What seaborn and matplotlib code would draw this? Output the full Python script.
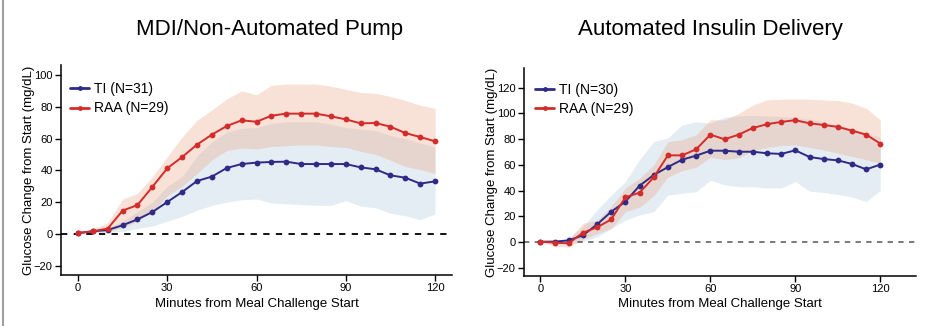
import numpy as np
import pandas as pd
import matplotlib
matplotlib.use("Agg")
import matplotlib.pyplot as plt
from matplotlib.lines import Line2D
import seaborn as sns

# Time points (minutes from meal challenge start)
minutes = [0, 5, 10, 15, 20, 25, 30, 35, 40, 45, 50, 55, 60,
           65, 70, 75, 80, 85, 90, 95, 100, 105, 110, 115, 120]

# MDI / non-automated pump
mdi_ti_mean = [0.6, 1.7, 2.5, 5.5, 9.2, 13.8, 20.1, 26.4, 33.3, 36.1, 41.5, 44.0, 44.9,
               45.3, 45.5, 44.0, 44.0, 44.0, 44.0, 41.9, 40.7, 36.9, 35.4, 31.7, 33.1]
mdi_ti_lo = [0.0, 0.5, 1.0, 1.5, 3.5, 5.0, 8.0, 11.0, 15.0, 18.0, 20.0, 21.5, 22.0,
             19.5, 19.0, 18.5, 18.0, 18.0, 21.0, 17.5, 16.5, 13.0, 11.5, 9.0, 12.5]
mdi_ti_hi = [0.6, 2.5, 4.0, 8.0, 14.0, 20.0, 30.0, 36.0, 49.0, 58.0, 64.0, 66.5, 67.0,
             69.5, 70.5, 70.5, 70.5, 69.0, 67.0, 66.0, 65.0, 62.0, 60.0, 57.0, 55.0]
mdi_raa_mean = [0.6, 1.7, 3.4, 14.7, 18.2, 29.6, 41.3, 48.4, 56.2, 62.5, 67.9, 71.5, 70.6,
                74.4, 75.7, 75.7, 75.7, 74.0, 72.1, 69.6, 69.8, 67.5, 63.5, 61.0, 58.3]
mdi_raa_lo = [0.5, 1.0, 1.5, 4.0, 8.0, 14.0, 24.0, 30.0, 38.0, 46.5, 52.5, 54.0, 53.5,
              55.0, 55.5, 56.0, 56.0, 55.0, 54.5, 52.0, 50.0, 46.5, 42.5, 40.5, 38.0]
mdi_raa_hi = [0.7, 3.0, 7.0, 22.0, 25.5, 36.0, 48.5, 61.0, 71.5, 78.0, 85.0, 90.0, 87.5,
              93.5, 94.3, 94.3, 94.3, 93.0, 91.0, 89.0, 88.5, 86.5, 84.0, 81.0, 79.0]

# Automated insulin delivery
aid_ti_mean = [0.3, 0.3, 1.3, 5.2, 13.7, 23.6, 31.4, 43.8, 52.1, 58.3, 64.0, 67.2, 71.0,
               71.0, 70.2, 70.2, 69.0, 68.5, 71.3, 66.1, 64.5, 63.5, 60.7, 56.5, 60.2]
aid_ti_lo = [0.0, -0.5, -1.0, 0.5, 4.0, 10.5, 17.0, 21.0, 23.5, 36.5, 38.0, 39.0, 48.0,
             44.5, 43.0, 43.0, 42.0, 42.0, 47.0, 39.5, 38.5, 37.0, 35.0, 31.5, 40.0]
aid_ti_hi = [0.5, 1.0, 3.0, 12.0, 25.0, 36.5, 47.0, 64.0, 78.0, 81.0, 91.0, 93.5, 92.5,
             97.0, 98.0, 98.5, 98.0, 97.5, 97.0, 95.5, 93.5, 91.0, 88.0, 84.5, 81.5]
aid_raa_mean = [0.3, -0.5, -1.0, 7.3, 11.4, 17.6, 34.8, 38.4, 50.3, 67.4, 67.4, 72.1, 83.5,
                79.9, 83.5, 88.7, 91.6, 93.4, 94.7, 92.3, 91.0, 89.5, 86.6, 83.5, 76.5]
aid_raa_lo = [0.0, -3.0, -4.0, 2.0, 6.5, 10.5, 23.5, 27.0, 36.0, 50.5, 55.5, 58.0, 66.0,
              64.0, 65.5, 71.0, 73.5, 75.0, 75.5, 73.5, 71.5, 69.0, 66.5, 64.0, 61.0]
aid_raa_hi = [0.5, 2.0, 2.0, 14.5, 17.0, 27.5, 42.0, 49.5, 60.0, 78.0, 79.5, 83.5, 95.0,
              95.0, 100.0, 106.5, 110.5, 111.0, 111.0, 111.0, 110.5, 110.0, 108.0, 104.0, 95.0]

titles = ["MDI/Non-Automated Pump", "Automated Insulin Delivery"]
ti_labels = ["TI (N=31)", "TI (N=30)"]
raa_label = "RAA (N=29)"

TI_COLOR = "#2f2a86"
RAA_COLOR = "#d42b2b"
TI_BAND = "#a9c6dc"
RAA_BAND = "#eb9c78"

sns.set_theme(style="ticks")
plt.rcParams["font.family"] = ["Liberation Sans", "DejaVu Sans"]
plt.rcParams.update({"text.color": "black", "axes.labelcolor": "black",
                     "xtick.color": "black", "ytick.color": "black",
                     "axes.edgecolor": "black"})

fig = plt.figure(figsize=(9.32, 3.26), dpi=100)
ax1 = fig.add_axes([61 / 932, 51 / 326, 391 / 932, 210 / 326])
ax2 = fig.add_axes([524 / 932, 50 / 326, 392 / 932, 208 / 326])

panels = [
    (ax1, mdi_ti_mean, mdi_ti_lo, mdi_ti_hi, mdi_raa_mean, mdi_raa_lo, mdi_raa_hi,
     (-5.7, 125.7), (-25.8, 106.3), np.arange(-20, 101, 20), "black", 1.3, (0.023, 0.918)),
    (ax2, aid_ti_mean, aid_ti_lo, aid_ti_hi, aid_raa_mean, aid_raa_lo, aid_raa_hi,
     (-5.8, 132.6), (-26.4, 135.3), np.arange(-20, 121, 20), "#555555", 1.1, (0.028, 0.93)),
]

for i, (ax, ti_m, ti_lo, ti_hi, raa_m, raa_lo, raa_hi, xlim, ylim, yticks, zc, zw, leg_xy) in enumerate(panels):
    ax.fill_between(minutes, ti_lo, ti_hi, color=TI_BAND, alpha=0.3, linewidth=0, zorder=1)
    ax.fill_between(minutes, raa_lo, raa_hi, color=RAA_BAND, alpha=0.3, linewidth=0, zorder=1)
    ax.axhline(0, color=zc, linestyle=(0, (3.5, 3.5)), linewidth=zw, zorder=2)

    ti_lab = ti_labels[i]
    df = pd.DataFrame({
        "minutes": minutes * 2,
        "change": list(ti_m) + list(raa_m),
        "group": [ti_lab] * len(minutes) + [raa_label] * len(minutes),
    })
    sns.lineplot(data=df, x="minutes", y="change", hue="group",
                 palette={ti_lab: TI_COLOR, raa_label: RAA_COLOR},
                 marker="o", markersize=4.2, markeredgewidth=0,
                 linewidth=1.4, ax=ax, zorder=3)

    handles = [Line2D([], [], color=TI_COLOR, marker="o", markersize=3.5, markeredgewidth=0, linewidth=2.0),
               Line2D([], [], color=RAA_COLOR, marker="o", markersize=3.5, markeredgewidth=0, linewidth=2.0)]
    ax.legend(handles, [ti_lab, raa_label], loc="upper left", bbox_to_anchor=leg_xy,
              frameon=False, fontsize=10, handlelength=1.4, handletextpad=0.3,
              labelspacing=0.38, borderaxespad=0.0, borderpad=0.0)

    ax.set_xlim(*xlim)
    ax.set_ylim(*ylim)
    ax.set_xticks([0, 30, 60, 90, 120])
    ax.set_yticks(yticks)
    ax.set_xlabel("Minutes from Meal Challenge Start", fontsize=9.5, labelpad=3)
    ax.set_ylabel("Glucose Change from Start (mg/dL)", fontsize=9.5, labelpad=-1)
    ax.tick_params(axis="both", labelsize=8, length=4, width=1, color="black", pad=2)
    for side in ["left", "bottom"]:
        ax.spines[side].set_linewidth(1.1)
        ax.spines[side].set_color("black")
    sns.despine(ax=ax)

fig.text(270 / 932, 1 - 30 / 326, titles[0], ha="center", va="center", fontsize=16)
fig.text(710 / 932, 1 - 30 / 326, titles[1], ha="center", va="center", fontsize=16)

# thin grey frame line along the left edge
fig.add_artist(Line2D([2.5 / 932, 2.5 / 932], [0, 1], color="#a0a0a0", linewidth=1.5,
                      transform=fig.transFigure))

fig.savefig("out.png", dpi=100)
